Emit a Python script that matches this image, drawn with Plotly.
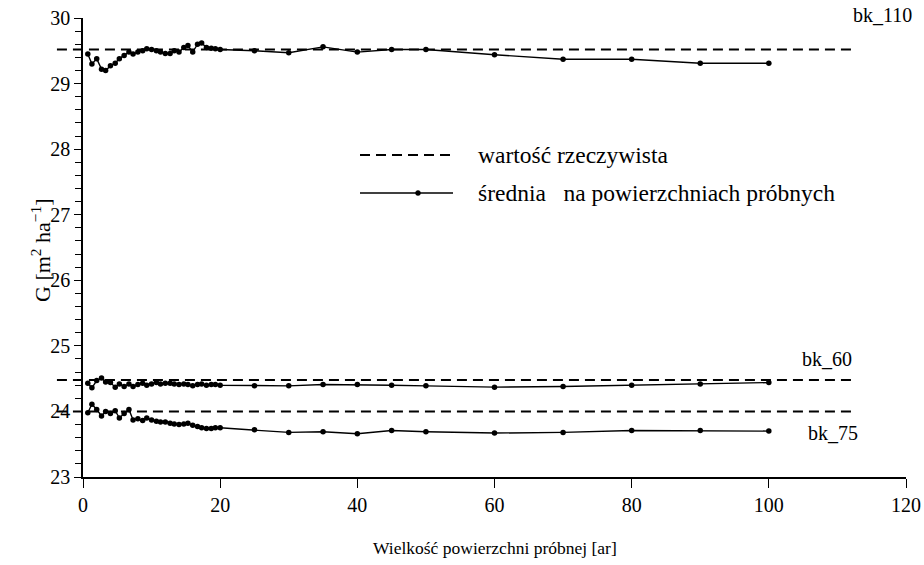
import plotly.graph_objects as go

# ---------------- data ----------------
x_dense = [0.7, 1.3, 2.0, 2.7, 3.3, 4.0, 4.7, 5.3, 6.0, 6.7, 7.3, 8.0, 8.7, 9.3, 10.0,
           10.7, 11.3, 12.0, 12.7, 13.3, 14.0, 14.7, 15.3, 16.0, 16.7, 17.3, 18.0, 18.7, 19.3, 20.0]
x_sparse = [25, 30, 35, 40, 45, 50, 60, 70, 80, 90, 100]
x_all = x_dense + x_sparse

bk110_mean = [29.45, 29.30, 29.38, 29.22, 29.20, 29.27, 29.31, 29.38, 29.43, 29.48,
              29.45, 29.48, 29.50, 29.53, 29.52, 29.50, 29.48, 29.46, 29.46, 29.50,
              29.48, 29.55, 29.58, 29.48, 29.60, 29.62, 29.55, 29.54, 29.53, 29.52,
              29.50, 29.47, 29.56, 29.48, 29.52, 29.52, 29.44, 29.37, 29.37, 29.31, 29.31]
bk60_mean = [24.43, 24.36, 24.47, 24.51, 24.45, 24.44, 24.37, 24.42, 24.38, 24.42,
             24.38, 24.41, 24.43, 24.40, 24.42, 24.44, 24.42, 24.43, 24.43, 24.42,
             24.41, 24.42, 24.41, 24.39, 24.41, 24.42, 24.40, 24.41, 24.41, 24.40,
             24.39, 24.39, 24.41, 24.41, 24.40, 24.39, 24.37, 24.38, 24.40, 24.42, 24.44]
bk75_mean = [23.98, 24.11, 24.03, 23.93, 24.00, 23.97, 24.01, 23.90, 23.97, 24.03,
             23.87, 23.89, 23.86, 23.90, 23.87, 23.85, 23.84, 23.84, 23.82, 23.81,
             23.80, 23.81, 23.82, 23.79, 23.77, 23.75, 23.74, 23.74, 23.75, 23.75,
             23.72, 23.68, 23.69, 23.66, 23.71, 23.69, 23.67, 23.68, 23.71, 23.71, 23.70]

true_names = ["bk_110", "bk_60", "bk_75"]
true_values = [29.52, 24.48, 24.00]
true_x = [-3.8, 112.3]

# label anchor (x, y) and vertical pixel shift
label_pos = {"bk_110": (116.6, 29.9, 10), "bk_60": (108.5, 24.80, 0), "bk_75": (109.3, 23.67, 0)}

y_range = [23, 30]
x_range = [0, 120]

legend_texts = ["wartość rzeczywista", "średnia\u00a0\u00a0 na powierzchniach próbnych"]
x_title = "Wielkość powierzchni próbnej [ar]"
y_title = "G [m<sup>2</sup> ha<sup>−1</sup>]"

# ---------------- layout geometry ----------------
W, H = 924, 565
ml, mr, mt, mb = 55, 18, 18, 88
plot_w = W - ml - mr
plot_h = H - mt - mb
d = (83 - ml) / plot_w  # start of main x domain (paper fraction)
x2_left = -x_range[1] * d / (1 - d)

FONT = "Liberation Serif, Times New Roman, serif"

fig = go.Figure()

# true values (dashed) on the wide helper subplot so they can pass the y axis
for name, val in zip(true_names, true_values):
    fig.add_trace(go.Scatter(
        x=true_x, y=[val, val], mode="lines", xaxis="x2", yaxis="y2",
        line=dict(color="black", width=2, dash="10px,6px"), showlegend=False,
        hoverinfo="skip"))

for series in (bk110_mean, bk60_mean, bk75_mean):
    fig.add_trace(go.Scatter(
        x=x_all, y=series, mode="lines+markers",
        line=dict(color="black", width=1.4),
        marker=dict(color="black", size=5.5), showlegend=False, cliponaxis=False))

annotations = []
for name, (lx, ly, shift) in label_pos.items():
    annotations.append(dict(x=lx, y=ly, xref="x", yref="y", text=name, showarrow=False,
                            xanchor="center", yanchor="middle", yshift=shift,
                            font=dict(family=FONT, size=20, color="black")))


def px2paper_x(px):
    return (px - ml) / plot_w


def py2paper_y(py):
    return (H - mb - py) / plot_h


annotations.append(dict(x=px2paper_x(495), y=py2paper_y(548), xref="paper", yref="paper",
                        xanchor="center", yanchor="middle",
                        text=x_title, showarrow=False, font=dict(family=FONT, size=17.5, color="black")))
annotations.append(dict(x=px2paper_x(41), y=py2paper_y(250), xref="paper", yref="paper",
                        xanchor="center", yanchor="middle",
                        text=y_title, showarrow=False, textangle=-90,
                        font=dict(family=FONT, size=22, color="black")))

# legend (manual)
shapes = []
leg_rows = [155, 193]
shapes.append(dict(type="line", xref="paper", yref="paper",
                   x0=px2paper_x(360), x1=px2paper_x(453), y0=py2paper_y(leg_rows[0]), y1=py2paper_y(leg_rows[0]),
                   line=dict(color="black", width=2, dash="10px,6px")))
shapes.append(dict(type="line", xref="paper", yref="paper",
                   x0=px2paper_x(360), x1=px2paper_x(453), y0=py2paper_y(leg_rows[1]), y1=py2paper_y(leg_rows[1]),
                   line=dict(color="black", width=1.4)))
shapes.append(dict(type="circle", xref="paper", yref="paper",
                   x0=px2paper_x(415.5), x1=px2paper_x(420.5), y0=py2paper_y(leg_rows[1] + 2.5), y1=py2paper_y(leg_rows[1] - 2.5),
                   fillcolor="black", line=dict(color="black", width=0.5)))
for txt, row in zip(legend_texts, leg_rows):
    annotations.append(dict(x=px2paper_x(476), y=py2paper_y(row), xref="paper", yref="paper",
                            xanchor="left", yanchor="middle", text=txt, showarrow=False,
                            font=dict(family=FONT, size=23.5, color="black")))

axis_common = dict(showgrid=False, zeroline=False, showline=True, linecolor="black", linewidth=1.5,
                   ticks="outside", tickcolor="black", tickwidth=1.3, automargin=False,
                   tickfont=dict(family=FONT, size=20, color="black"))

fig.update_layout(
    width=W, height=H, margin=dict(l=ml, r=mr, t=mt, b=mb, autoexpand=False),
    paper_bgcolor="white", plot_bgcolor="rgba(0,0,0,0)",
    font=dict(family=FONT, color="black"),
    xaxis=dict(domain=[d, 1], range=x_range, dtick=20, tick0=0, ticklen=9, anchor="y", **axis_common),
    yaxis=dict(domain=[0, 1], range=y_range, dtick=1, tick0=23, ticklen=7, anchor="x",
               minor=dict(dtick=0.2, ticks="outside", ticklen=6, tickcolor="black", tickwidth=1.2),
               **axis_common),
    xaxis2=dict(domain=[0, 1], range=[x2_left, x_range[1]], anchor="y2", visible=False, automargin=False),
    yaxis2=dict(domain=[0, 1], range=y_range, anchor="x2", visible=False, automargin=False),
    annotations=annotations, shapes=shapes, showlegend=False,
)

fig.write_html("out.html")
